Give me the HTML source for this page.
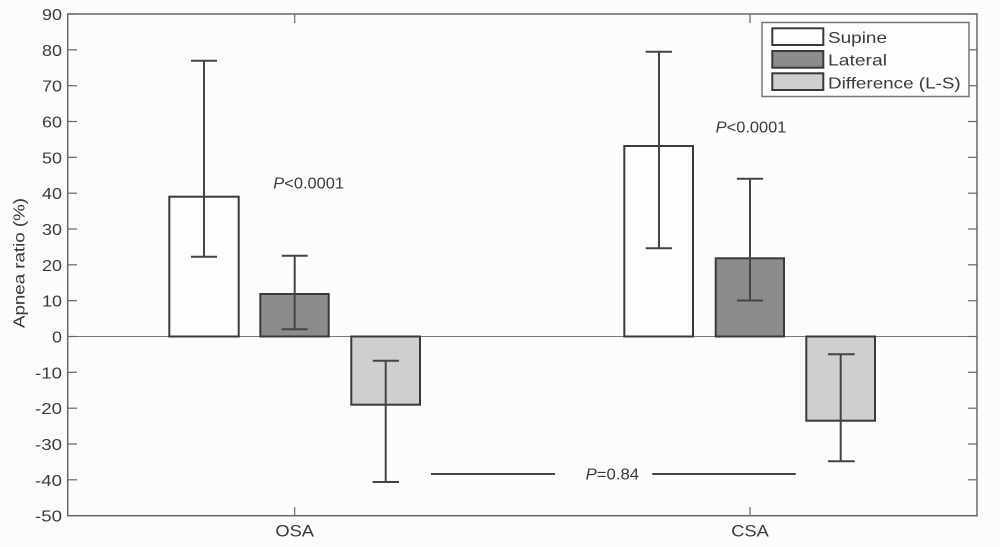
<!DOCTYPE html>
<html>
<head>
<meta charset="utf-8">
<style>
  html, body { margin:0; padding:0; background:#fdfcfb; }
  svg { display:block; }
  text { font-family: "Liberation Sans", Arial, sans-serif; fill:#3a3a3a; }
</style>
</head>
<body>
<svg width="1000" height="547" viewBox="0 0 1000 547" xmlns="http://www.w3.org/2000/svg">
  <rect x="0" y="0" width="1000" height="547" fill="#fdfcfb"/>

  <!-- zero line -->
  <line x1="68" y1="336.5" x2="977" y2="336.5" stroke="#7a7a7a" stroke-width="1"/>

  <!-- bars -->
  <g stroke="#3a3a3a" stroke-width="2">
    <rect x="169.3" y="196.7" width="69.4" height="139.8" fill="#fdfdfd"/>
    <rect x="260.3" y="294" width="68.4" height="42.5" fill="#8c8c8c"/>
    <rect x="351.3" y="336.5" width="68.7" height="68.2" fill="#cfcfcf"/>
    <rect x="624.3" y="146" width="68.7" height="190.5" fill="#fdfdfd"/>
    <rect x="715.7" y="258.3" width="68.3" height="78.2" fill="#8c8c8c"/>
    <rect x="806.3" y="336.5" width="68.7" height="84.2" fill="#cfcfcf"/>
  </g>

  <!-- error bars -->
  <g stroke="#444" stroke-width="2" fill="none">
    <line x1="204" y1="60.7" x2="204" y2="256.7"/>
    <line x1="191" y1="60.7" x2="217" y2="60.7"/>
    <line x1="191" y1="256.7" x2="217" y2="256.7"/>

    <line x1="294.7" y1="255.7" x2="294.7" y2="329.3"/>
    <line x1="281.7" y1="255.7" x2="307.7" y2="255.7"/>
    <line x1="281.7" y1="329.3" x2="307.7" y2="329.3"/>

    <line x1="385.7" y1="360.7" x2="385.7" y2="482"/>
    <line x1="372.7" y1="360.7" x2="399" y2="360.7"/>
    <line x1="372.7" y1="482" x2="399" y2="482"/>

    <line x1="659" y1="51.7" x2="659" y2="248.3"/>
    <line x1="645.7" y1="51.7" x2="672" y2="51.7"/>
    <line x1="645.7" y1="248.3" x2="672" y2="248.3"/>

    <line x1="750" y1="178.7" x2="750" y2="300.5"/>
    <line x1="737" y1="178.7" x2="763" y2="178.7"/>
    <line x1="737" y1="300.5" x2="763" y2="300.5"/>

    <line x1="840.7" y1="354.3" x2="840.7" y2="461.3"/>
    <line x1="828" y1="354.3" x2="854.7" y2="354.3"/>
    <line x1="828" y1="461.3" x2="854.7" y2="461.3"/>

    <!-- P=0.84 lines -->
    <line x1="431" y1="474" x2="555" y2="474"/>
    <line x1="652.3" y1="474" x2="795.7" y2="474"/>
  </g>

  <!-- axes box -->
  <rect x="67.7" y="14" width="909.3" height="501.7" fill="none" stroke="#666" stroke-width="1.5"/>

  <!-- y ticks (left & right) -->
  <g stroke="#666" stroke-width="1.2">
    <line x1="68" y1="14" x2="77" y2="14"/><line x1="968" y1="14" x2="977" y2="14"/>
    <line x1="68" y1="49.8" x2="77" y2="49.8"/><line x1="968" y1="49.8" x2="977" y2="49.8"/>
    <line x1="68" y1="85.7" x2="77" y2="85.7"/><line x1="968" y1="85.7" x2="977" y2="85.7"/>
    <line x1="68" y1="121.5" x2="77" y2="121.5"/><line x1="968" y1="121.5" x2="977" y2="121.5"/>
    <line x1="68" y1="157.3" x2="77" y2="157.3"/><line x1="968" y1="157.3" x2="977" y2="157.3"/>
    <line x1="68" y1="193.2" x2="77" y2="193.2"/><line x1="968" y1="193.2" x2="977" y2="193.2"/>
    <line x1="68" y1="229" x2="77" y2="229"/><line x1="968" y1="229" x2="977" y2="229"/>
    <line x1="68" y1="264.8" x2="77" y2="264.8"/><line x1="968" y1="264.8" x2="977" y2="264.8"/>
    <line x1="68" y1="300.7" x2="77" y2="300.7"/><line x1="968" y1="300.7" x2="977" y2="300.7"/>
    <line x1="68" y1="336.5" x2="77" y2="336.5"/><line x1="968" y1="336.5" x2="977" y2="336.5"/>
    <line x1="68" y1="372.3" x2="77" y2="372.3"/><line x1="968" y1="372.3" x2="977" y2="372.3"/>
    <line x1="68" y1="408.2" x2="77" y2="408.2"/><line x1="968" y1="408.2" x2="977" y2="408.2"/>
    <line x1="68" y1="444" x2="77" y2="444"/><line x1="968" y1="444" x2="977" y2="444"/>
    <line x1="68" y1="479.8" x2="77" y2="479.8"/><line x1="968" y1="479.8" x2="977" y2="479.8"/>
    <!-- x ticks -->
    <line x1="294.7" y1="507" x2="294.7" y2="516"/>
    <line x1="750" y1="507" x2="750" y2="516"/>
    <line x1="294.7" y1="14" x2="294.7" y2="23"/>
    <line x1="750" y1="14" x2="750" y2="23"/>
  </g>

  <!-- y tick labels -->
  <g font-size="16" text-anchor="end">
    <text x="62" y="20" textLength="20" lengthAdjust="spacingAndGlyphs">90</text>
    <text x="62" y="55.8" textLength="20" lengthAdjust="spacingAndGlyphs">80</text>
    <text x="62" y="91.7" textLength="20" lengthAdjust="spacingAndGlyphs">70</text>
    <text x="62" y="127.5" textLength="20" lengthAdjust="spacingAndGlyphs">60</text>
    <text x="62" y="163.3" textLength="20" lengthAdjust="spacingAndGlyphs">50</text>
    <text x="62" y="199.2" textLength="20" lengthAdjust="spacingAndGlyphs">40</text>
    <text x="62" y="235" textLength="20" lengthAdjust="spacingAndGlyphs">30</text>
    <text x="62" y="270.8" textLength="20" lengthAdjust="spacingAndGlyphs">20</text>
    <text x="62" y="306.7" textLength="20" lengthAdjust="spacingAndGlyphs">10</text>
    <text x="62" y="342.5" textLength="10" lengthAdjust="spacingAndGlyphs">0</text>
    <text x="62" y="378.3" textLength="27" lengthAdjust="spacingAndGlyphs">-10</text>
    <text x="62" y="414.2" textLength="27" lengthAdjust="spacingAndGlyphs">-20</text>
    <text x="62" y="450" textLength="27" lengthAdjust="spacingAndGlyphs">-30</text>
    <text x="62" y="485.8" textLength="27" lengthAdjust="spacingAndGlyphs">-40</text>
    <text x="62" y="521.7" textLength="27" lengthAdjust="spacingAndGlyphs">-50</text>
  </g>

  <!-- x labels -->
  <g font-size="16.5" text-anchor="middle">
    <text x="294.7" y="536.7" textLength="38.7" lengthAdjust="spacingAndGlyphs">OSA</text>
    <text x="750" y="536.7" textLength="37.5" lengthAdjust="spacingAndGlyphs">CSA</text>
  </g>

  <!-- y axis label -->
  <text font-size="16" transform="translate(24.5,328) rotate(-90)" x="0" y="0" textLength="130" lengthAdjust="spacingAndGlyphs">Apnea ratio (%)</text>

  <!-- P values -->
  <g font-size="16">
    <text x="273.3" y="188.3" textLength="70.7" lengthAdjust="spacingAndGlyphs"><tspan font-style="italic">P</tspan>&lt;0.0001</text>
    <text x="715.7" y="132.7" textLength="70.7" lengthAdjust="spacingAndGlyphs"><tspan font-style="italic">P</tspan>&lt;0.0001</text>
    <text x="585.7" y="479.3" textLength="53.3" lengthAdjust="spacingAndGlyphs"><tspan font-style="italic">P</tspan>=0.84</text>
  </g>

  <!-- legend -->
  <rect x="762" y="22.5" width="207" height="74" fill="#fdfdfd" stroke="#777" stroke-width="1.5"/>
  <g stroke="#3a3a3a" stroke-width="2">
    <rect x="772.3" y="28.3" width="51" height="16.7" fill="#fdfdfd"/>
    <rect x="772.3" y="51" width="51" height="16.7" fill="#8c8c8c"/>
    <rect x="772.3" y="73.3" width="51" height="16.7" fill="#cfcfcf"/>
  </g>
  <g font-size="16">
    <text x="828" y="43" textLength="59" lengthAdjust="spacingAndGlyphs">Supine</text>
    <text x="828" y="65.7" textLength="59" lengthAdjust="spacingAndGlyphs">Lateral</text>
    <text x="828" y="88.3" textLength="132.7" lengthAdjust="spacingAndGlyphs">Difference (L-S)</text>
  </g>
</svg>
</body>
</html>
